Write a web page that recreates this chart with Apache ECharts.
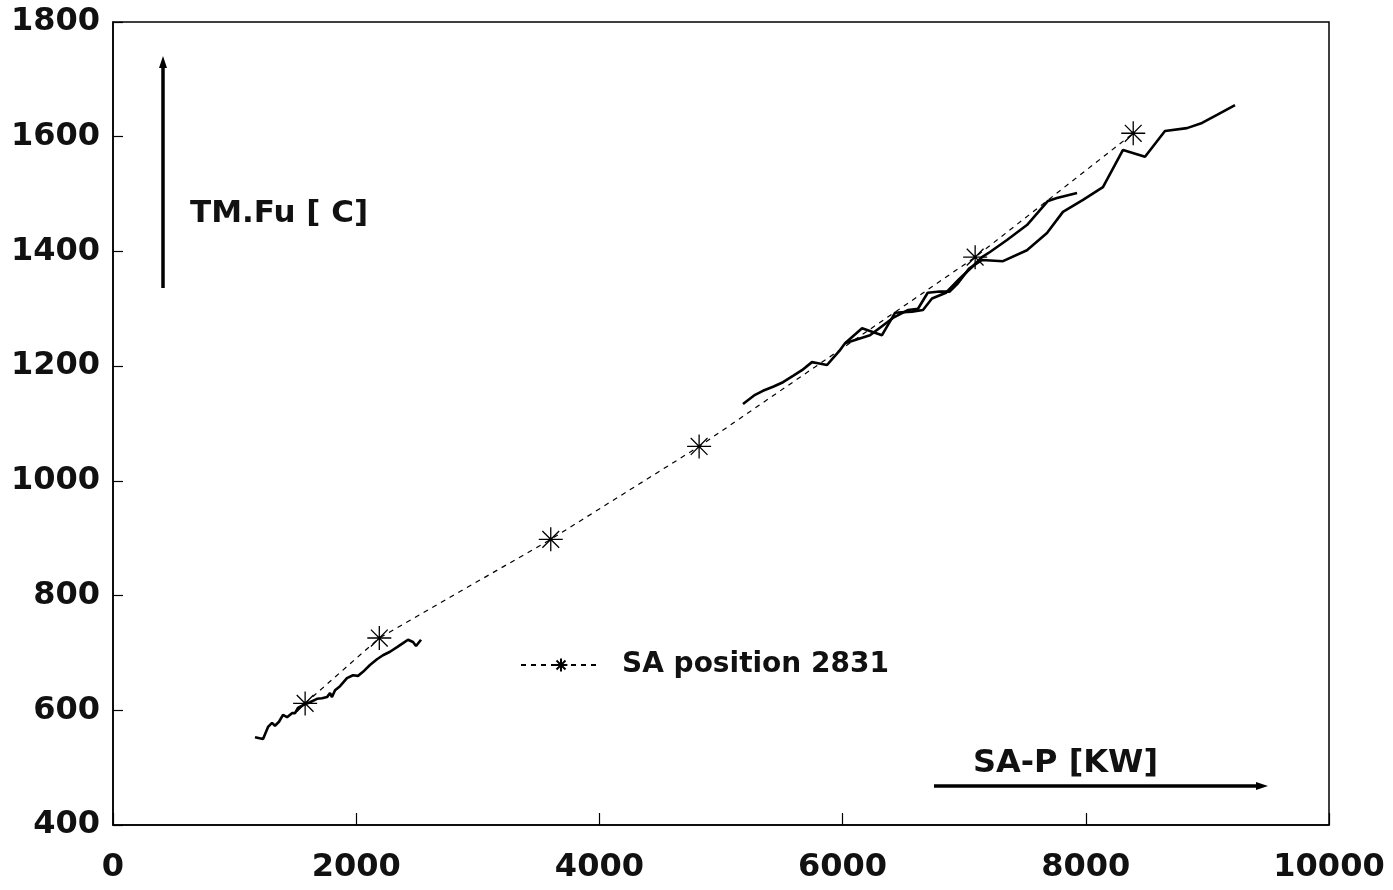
<!DOCTYPE html>
<html>
<head>
<meta charset="utf-8">
<script src="https://cdn.jsdelivr.net/npm/echarts@6/dist/echarts.min.js"></script>
<style>
html,body{margin:0;padding:0;background:#fff;}
#c{width:1393px;height:890px;}
</style>
</head>
<body>
<div id="c"></div>
<script>
// ---- data ----
const xTicks = [0, 2000, 4000, 6000, 8000, 10000];
const yTicks = [400, 600, 800, 1000, 1200, 1400, 1600, 1800];

// SA position 2831 (dashed with star markers)
const starX = [1580, 2190, 3600, 4820, 7090, 8390];
const starY = [612, 726, 898, 1060, 1390, 1606];

// measured curve, low-power run
const lowX = [1168,1234,1275,1308,1332,1365,1398,1431,1472,1497,1521,1563,1620,1678,1719,1760,1785,1801,1826,1867,1924,1974,2015,2056,2113,2171,2220,2278,2336,2385,2426,2467,2492,2533];
const lowY = [553,550,571,578,573,580,592,588,595,595,604,609,614,620,621,623,630,623,635,642,656,661,660,667,679,689,696,702,710,717,723,719,712,723];

// measured curve, upper branch
const upX = [5181,5280,5345,5428,5510,5592,5666,5748,5798,5872,5921,5979,6020,6160,6324,6431,6571,6661,6735,6850,6960,7060,7146,7212,7352,7516,7689,7763,7928];
const upY = [1134,1150,1157,1164,1172,1183,1193,1207,1205,1202,1214,1228,1240,1266,1254,1293,1295,1298,1318,1328,1352,1372,1390,1399,1420,1446,1488,1493,1502];

// measured curve, lower branch
const loX = [6020,6225,6414,6540,6620,6700,6800,6880,6950,7040,7146,7319,7516,7681,7812,7977,8141,8306,8487,8651,8832,8956,9079,9227];
const loY = [1240,1254,1284,1298,1300,1328,1330,1330,1345,1370,1385,1383,1402,1432,1469,1490,1512,1577,1565,1610,1615,1624,1638,1655];

const zip = (a, b) => a.map((v, i) => [v, b[i]]);

const FONT = 'DejaVu Sans';
const starPath = 'path://M0,-10L0,10M-10,0L10,0M-7,-7L7,7M-7,7L7,-7';

const chart = echarts.init(document.getElementById('c'), null, {renderer: 'canvas'});
const solid = {color: '#000', width: 2.6};

chart.setOption({
  backgroundColor: '#fff',
  animation: false,
  grid: {left: 113, right: 64, top: 22, bottom: 65, show: true, borderColor: '#000', borderWidth: 1.5, backgroundColor: 'transparent'},
  xAxis: {
    type: 'value', min: 0, max: 10000, interval: 2000,
    axisLine: {show: true, lineStyle: {color: '#000', width: 1.5}},
    axisTick: {show: true, inside: true, length: 12, lineStyle: {color: '#000', width: 1.2}},
    splitLine: {show: false},
    axisLabel: {color: '#111', fontFamily: FONT, fontWeight: 'bold', fontSize: 32, margin: 27,
      formatter: v => xTicks.includes(v) ? String(v) : ''}
  },
  yAxis: {
    type: 'value', min: 400, max: 1800, interval: 200,
    axisLine: {show: true, lineStyle: {color: '#000', width: 1.5}},
    axisTick: {show: true, inside: true, length: 10, lineStyle: {color: '#000', width: 1.2}},
    splitLine: {show: false},
    axisLabel: {color: '#111', fontFamily: FONT, fontWeight: 'bold', fontSize: 32, margin: 13,
      formatter: v => yTicks.includes(v) ? String(v) : ''}
  },
  legend: {
    data: ['SA position 2831'],
    left: 515, top: 646,
    itemWidth: 80, itemHeight: 16,
    textStyle: {color: '#111', fontFamily: FONT, fontWeight: 'bold', fontSize: 28, padding: [0, 0, 0, 16]}
  },
  graphic: [
    {type: 'line', shape: {x1: 163, y1: 288, x2: 163, y2: 66}, style: {stroke: '#000', lineWidth: 3.5}},
    {type: 'polygon', shape: {points: [[163, 56], [159, 68], [167, 68]]}, style: {fill: '#000'}},
    {type: 'text', left: 190, top: 198, style: {text: 'TM.Fu [ C]', fill: '#111', font: 'bold 31px "DejaVu Sans"'}},
    {type: 'line', shape: {x1: 934, y1: 786, x2: 1258, y2: 786}, style: {stroke: '#000', lineWidth: 3.5}},
    {type: 'polygon', shape: {points: [[1268, 786], [1256, 782], [1256, 790]]}, style: {fill: '#000'}},
    {type: 'text', left: 973, top: 748, style: {text: 'SA-P [KW]', fill: '#111', font: 'bold 32px "DejaVu Sans"'}}
  ],
  series: [
    {type: 'line', name: 'low', data: zip(lowX, lowY), showSymbol: false, lineStyle: solid, itemStyle: {color: '#000'}, z: 3},
    {type: 'line', name: 'up', data: zip(upX, upY), showSymbol: false, lineStyle: solid, itemStyle: {color: '#000'}, z: 3},
    {type: 'line', name: 'lo', data: zip(loX, loY), showSymbol: false, lineStyle: solid, itemStyle: {color: '#000'}, z: 3},
    {
      type: 'line', name: 'SA position 2831', data: zip(starX, starY),
      symbol: starPath, symbolSize: 24, showSymbol: true,
      lineStyle: {color: '#000', width: 1.2, type: [5, 5]},
      itemStyle: {color: 'rgba(0,0,0,0)', borderColor: '#000', borderWidth: 1.3},
      z: 4
    }
  ]
});
</script>
</body>
</html>
